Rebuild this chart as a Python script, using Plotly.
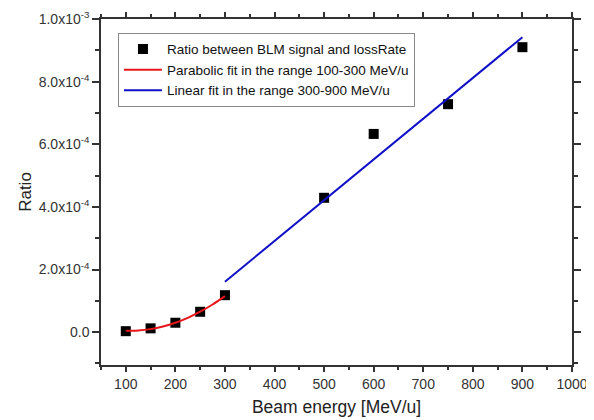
import plotly.graph_objects as go

# Measured data
energy = [100, 150, 200, 250, 300, 500, 600, 750, 900]
ratio = [3e-6, 1.2e-5, 3.0e-5, 6.5e-5, 1.18e-4, 4.29e-4, 6.33e-4, 7.28e-4, 9.10e-4]

# Parabolic fit curve
para_x = [100, 125, 150, 175, 200, 225, 250, 275, 300]
para_y = [4.0e-6, 5.0e-6, 9.6e-6, 1.8e-5, 3.0e-5, 4.57e-5, 6.51e-5, 8.82e-5, 1.15e-4]

# Linear fit line endpoints
lin_x = [300, 900]
lin_y = [1.61e-4, 9.42e-4]

y_tickvals = [0, 2e-4, 4e-4, 6e-4, 8e-4, 1e-3]
y_ticktext = ["0.0", "2.0x10<sup>-4</sup>", "4.0x10<sup>-4</sup>", "6.0x10<sup>-4</sup>",
              "8.0x10<sup>-4</sup>", "1.0x10<sup>-3</sup>"]
x_tickvals = [100, 200, 300, 400, 500, 600, 700, 800, 900, 1000]

fig = go.Figure()
fig.add_trace(go.Scatter(x=energy, y=ratio, mode="markers",
                         name="Ratio between BLM signal and lossRate",
                         marker=dict(symbol="square", size=10, color="black")))
fig.add_trace(go.Scatter(x=para_x, y=para_y, mode="lines",
                         name="Parabolic fit in the range 100-300 MeV/u",
                         line=dict(color="#e8161b", width=2, shape="spline")))
fig.add_trace(go.Scatter(x=lin_x, y=lin_y, mode="lines",
                         name="Linear fit in the range 300-900 MeV/u",
                         line=dict(color="#1010c8", width=2)))

axis_font = dict(family="Arial, Liberation Sans, sans-serif", size=14, color="#333")
fig.update_layout(
    width=586, height=412,
    margin=dict(l=93, r=22, t=11, b=55, autoexpand=False),
    paper_bgcolor="white", plot_bgcolor="white",
    font=dict(family="Arial, Liberation Sans, sans-serif", size=13, color="#222"),
    showlegend=True,
    legend=dict(x=0.036, y=0.96, xanchor="left", yanchor="top",
                bordercolor="#888", borderwidth=1, bgcolor="white",
                font=dict(size=13.5, color="#111"), tracegroupgap=0,
                itemwidth=38),
    xaxis=dict(range=[50, 1000], tickvals=x_tickvals, showgrid=False, zeroline=False,
               showline=True, linecolor="#333", linewidth=1.5, mirror="ticks",
               ticks="outside", ticklen=5, tickcolor="#333", tickwidth=1.5,
               tickfont=axis_font, automargin=False,
               minor=dict(ticks="outside", ticklen=3, dtick=50, tick0=50, tickcolor="#333"),
               title=dict(text="Beam energy [MeV/u]", font=dict(size=17.5, color="#222"), standoff=10)),
    yaxis=dict(range=[-1.05e-4, 1.0e-3], tickvals=y_tickvals, ticktext=y_ticktext,
               showgrid=False, zeroline=False,
               showline=True, linecolor="#333", linewidth=1.5, mirror="ticks",
               ticks="outside", ticklen=7, tickcolor="#333", tickwidth=1.5,
               tickfont=axis_font, automargin=False,
               minor=dict(ticks="outside", ticklen=4, dtick=1e-4, tick0=-1e-4, tickcolor="#333"),
               title=dict(text="Ratio", font=dict(size=17, color="#222"), standoff=3)),
)

fig.write_html("out.html")
